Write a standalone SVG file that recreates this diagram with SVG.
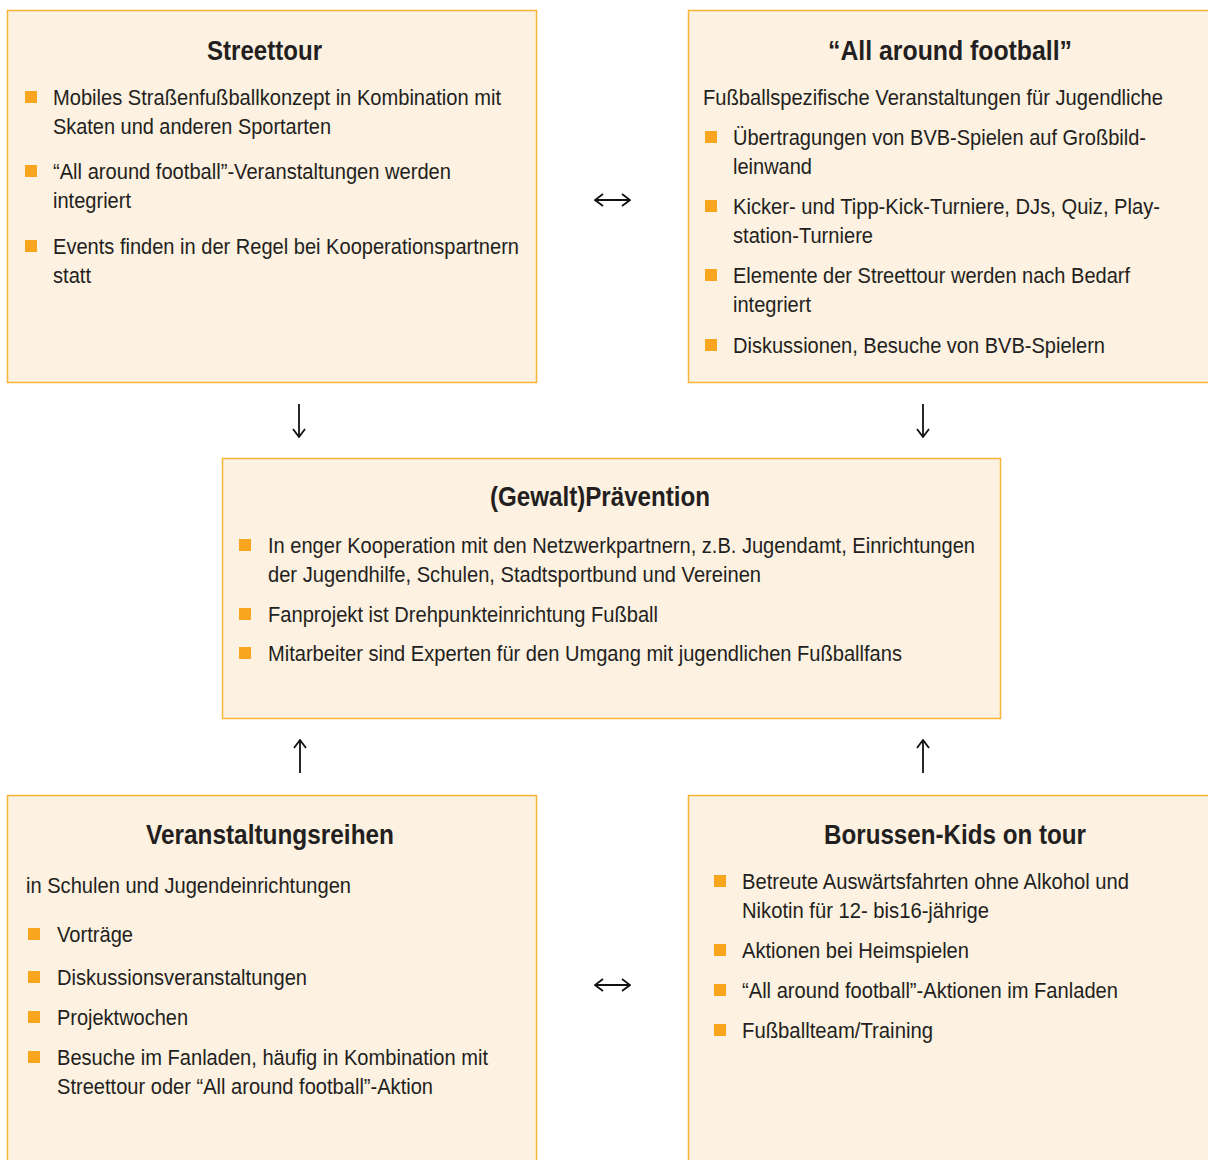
<svg xmlns="http://www.w3.org/2000/svg" width="1208" height="1160" viewBox="0 0 1208 1160">
<defs>
<style>
.box{fill:#FDF1E1;stroke:#F9B43A;stroke-width:1.5}
.bul{fill:#F9A51E}
text{font-family:"Liberation Sans",Arial,sans-serif;fill:#231F20}
.t{font-size:27px;font-weight:bold;text-anchor:middle}
.b{font-size:22px}
.con{stroke:#111;stroke-width:1.8;fill:none}
</style>
<marker id="hd" viewBox="0 0 10 14" refX="9" refY="7" markerWidth="10" markerHeight="14" markerUnits="userSpaceOnUse" orient="auto-start-reverse">
<path d="M1,1 L9,7 L1,13" fill="none" stroke="#111" stroke-width="1.8"/>
</marker>
</defs>
<rect width="1208" height="1160" fill="#fff"/>

<g id="streettour">
<rect class="box" x="7.5" y="10.5" width="529" height="372"/>
<text class="t" x="264.5" y="60" textLength="115" lengthAdjust="spacingAndGlyphs">Streettour</text>
<rect class="bul" x="25" y="91" width="12" height="12"/>
<text class="b" x="53" y="105" textLength="448" lengthAdjust="spacingAndGlyphs">Mobiles Straßenfußballkonzept in Kombination mit</text>
<text class="b" x="53" y="134" textLength="278" lengthAdjust="spacingAndGlyphs">Skaten und anderen Sportarten</text>
<rect class="bul" x="25" y="165" width="12" height="12"/>
<text class="b" x="53" y="179" textLength="398" lengthAdjust="spacingAndGlyphs">“All around football”-Veranstaltungen werden</text>
<text class="b" x="53" y="208" textLength="78" lengthAdjust="spacingAndGlyphs">integriert</text>
<rect class="bul" x="25" y="240" width="12" height="12"/>
<text class="b" x="53" y="254" textLength="466" lengthAdjust="spacingAndGlyphs">Events finden in der Regel bei Kooperationspartnern</text>
<text class="b" x="53" y="283" textLength="38" lengthAdjust="spacingAndGlyphs">statt</text>
</g>

<g id="allaround">
<rect class="box" x="688.5" y="10.5" width="530" height="372"/>
<text class="t" x="950" y="60" textLength="244" lengthAdjust="spacingAndGlyphs">“All  around football”</text>
<text class="b" x="703" y="105" textLength="460" lengthAdjust="spacingAndGlyphs">Fußballspezifische Veranstaltungen für Jugendliche</text>
<rect class="bul" x="705" y="131" width="12" height="12"/>
<text class="b" x="733" y="145" textLength="413" lengthAdjust="spacingAndGlyphs">Übertragungen von BVB-Spielen auf Großbild-</text>
<text class="b" x="733" y="174" textLength="79" lengthAdjust="spacingAndGlyphs">leinwand</text>
<rect class="bul" x="705" y="200" width="12" height="12"/>
<text class="b" x="733" y="214" textLength="427" lengthAdjust="spacingAndGlyphs">Kicker- und Tipp-Kick-Turniere, DJs, Quiz, Play-</text>
<text class="b" x="733" y="243" textLength="140" lengthAdjust="spacingAndGlyphs">station-Turniere</text>
<rect class="bul" x="705" y="269" width="12" height="12"/>
<text class="b" x="733" y="283" textLength="397" lengthAdjust="spacingAndGlyphs">Elemente der Streettour werden nach Bedarf</text>
<text class="b" x="733" y="312" textLength="78" lengthAdjust="spacingAndGlyphs">integriert</text>
<rect class="bul" x="705" y="339" width="12" height="12"/>
<text class="b" x="733" y="353" textLength="372" lengthAdjust="spacingAndGlyphs">Diskussionen, Besuche von BVB-Spielern</text>
</g>

<g id="praevention">
<rect class="box" x="222.5" y="458.5" width="778" height="260"/>
<text class="t" x="600" y="506" textLength="220" lengthAdjust="spacingAndGlyphs">(Gewalt)Prävention</text>
<rect class="bul" x="239" y="539" width="12" height="12"/>
<text class="b" x="268" y="553" textLength="707" lengthAdjust="spacingAndGlyphs">In enger Kooperation mit den Netzwerkpartnern, z.B. Jugendamt, Einrichtungen</text>
<text class="b" x="268" y="582" textLength="493" lengthAdjust="spacingAndGlyphs">der Jugendhilfe, Schulen, Stadtsportbund und Vereinen</text>
<rect class="bul" x="239" y="608" width="12" height="12"/>
<text class="b" x="268" y="622" textLength="390" lengthAdjust="spacingAndGlyphs">Fanprojekt ist Drehpunkteinrichtung Fußball</text>
<rect class="bul" x="239" y="647" width="12" height="12"/>
<text class="b" x="268" y="661" textLength="634" lengthAdjust="spacingAndGlyphs">Mitarbeiter sind Experten für den Umgang mit jugendlichen Fußballfans</text>
</g>

<g id="veranstaltungsreihen">
<rect class="box" x="7.5" y="795.5" width="529" height="380"/>
<text class="t" x="270" y="844" textLength="248" lengthAdjust="spacingAndGlyphs">Veranstaltungsreihen</text>
<text class="b" x="26" y="893" textLength="325" lengthAdjust="spacingAndGlyphs">in Schulen und Jugendeinrichtungen</text>
<rect class="bul" x="28" y="928" width="12" height="12"/>
<text class="b" x="57" y="942" textLength="76" lengthAdjust="spacingAndGlyphs">Vorträge</text>
<rect class="bul" x="28" y="971" width="12" height="12"/>
<text class="b" x="57" y="985" textLength="250" lengthAdjust="spacingAndGlyphs">Diskussionsveranstaltungen</text>
<rect class="bul" x="28" y="1011" width="12" height="12"/>
<text class="b" x="57" y="1025" textLength="131" lengthAdjust="spacingAndGlyphs">Projektwochen</text>
<rect class="bul" x="28" y="1051" width="12" height="12"/>
<text class="b" x="57" y="1065" textLength="431" lengthAdjust="spacingAndGlyphs">Besuche im Fanladen, häufig in Kombination mit</text>
<text class="b" x="57" y="1094" textLength="376" lengthAdjust="spacingAndGlyphs">Streettour oder “All around football”-Aktion</text>
</g>

<g id="borussenkids">
<rect class="box" x="688.5" y="795.5" width="530" height="380"/>
<text class="t" x="955" y="844" textLength="262" lengthAdjust="spacingAndGlyphs">Borussen-Kids on tour</text>
<rect class="bul" x="714" y="875" width="12" height="12"/>
<text class="b" x="742" y="889" textLength="387" lengthAdjust="spacingAndGlyphs">Betreute Auswärtsfahrten ohne Alkohol und</text>
<text class="b" x="742" y="918" textLength="247" lengthAdjust="spacingAndGlyphs">Nikotin für 12- bis16-jährige</text>
<rect class="bul" x="714" y="944" width="12" height="12"/>
<text class="b" x="742" y="958" textLength="227" lengthAdjust="spacingAndGlyphs">Aktionen bei Heimspielen</text>
<rect class="bul" x="714" y="984" width="12" height="12"/>
<text class="b" x="742" y="998" textLength="376" lengthAdjust="spacingAndGlyphs">“All around football”-Aktionen im Fanladen</text>
<rect class="bul" x="714" y="1024" width="12" height="12"/>
<text class="b" x="742" y="1038" textLength="191" lengthAdjust="spacingAndGlyphs">Fußballteam/Training</text>
</g>

<g id="connectors">
<path class="con" d="M595,200 H630" marker-start="url(#hd)" marker-end="url(#hd)"/>
<path class="con" d="M595,985 H630" marker-start="url(#hd)" marker-end="url(#hd)"/>
<path class="con" d="M299,404 V437" marker-end="url(#hd)"/>
<path class="con" d="M923,404 V437" marker-end="url(#hd)"/>
<path class="con" d="M300,773 V740" marker-end="url(#hd)"/>
<path class="con" d="M923,773 V740" marker-end="url(#hd)"/>
</g>
</svg>
